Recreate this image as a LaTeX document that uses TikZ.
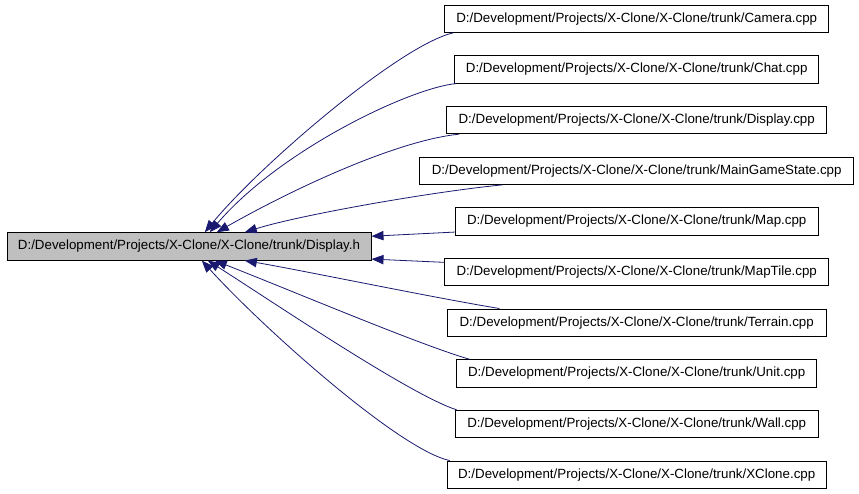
\documentclass[tikz,border=0pt]{standalone}
\usepackage{fontspec}
\setmainfont{Liberation Sans}
\usetikzlibrary{arrows.meta,calc}
\definecolor{edgeblue}{HTML}{191970}
\definecolor{nodegrey}{HTML}{BFBFBF}
\begin{document}
\begin{tikzpicture}[x=0.75pt,y=-0.75pt,
  filebox/.style={draw=black,line width=0.75pt,fill=white,inner sep=0pt,minimum height=20.5pt,font=\fontsize{10}{12}\selectfont,text=black},
  mainbox/.style={filebox,fill=nodegrey},
  dep/.style={draw=edgeblue,line width=0.6pt,-{Triangle[length=9pt,width=7pt]}}]
\useasboundingbox (0,0) rectangle (859,493);
\fill[white] (0,0) rectangle (859,493);

\node[mainbox,minimum width=273pt] (src) at (189,246.4) {D:/Development/Projects/X-Clone/X-Clone/trunk/Display.h};

\node[filebox,minimum width=288pt]    (cam)  at (636.7,18.7)  {D:/Development/Projects/X-Clone/X-Clone/trunk/Camera.cpp};
\node[filebox,minimum width=273pt]    (chat) at (636.7,69.4)  {D:/Development/Projects/X-Clone/X-Clone/trunk/Chat.cpp};
\node[filebox,minimum width=285pt]    (dcpp) at (636.7,120.0) {D:/Development/Projects/X-Clone/X-Clone/trunk/Display.cpp};
\node[filebox,minimum width=325.2pt]  (mgs)  at (636.7,170.7) {D:/Development/Projects/X-Clone/X-Clone/trunk/MainGameState.cpp};
\node[filebox,minimum width=272.25pt] (map)  at (636.7,221.4) {D:/Development/Projects/X-Clone/X-Clone/trunk/Map.cpp};
\node[filebox,minimum width=288pt]    (mt)   at (636.7,272.0) {D:/Development/Projects/X-Clone/X-Clone/trunk/MapTile.cpp};
\node[filebox,minimum width=284pt]    (ter)  at (636.7,322.7) {D:/Development/Projects/X-Clone/X-Clone/trunk/Terrain.cpp};
\node[filebox,minimum width=270pt]    (unit) at (636.7,373.4) {D:/Development/Projects/X-Clone/X-Clone/trunk/Unit.cpp};
\node[filebox,minimum width=272.25pt] (wall) at (636.7,424.0) {D:/Development/Projects/X-Clone/X-Clone/trunk/Wall.cpp};
\node[filebox,minimum width=284.25pt] (xc)   at (636.7,474.7) {D:/Development/Projects/X-Clone/X-Clone/trunk/XClone.cpp};

\draw[dep] ($(cam.south west)+(9,0)$) .. controls (400,45) and (260,165) .. ($(src.north west)+(198.3,0)$);
\draw[dep] ($(chat.south west)+(2,0)$) .. controls (410,88) and (280,150) .. ($(src.north west)+(203.3,0)$);
\draw[dep] ($(dcpp.south west)+(13,0)$) .. controls (400,140) and (300,185) .. ($(src.north west)+(210.3,0)$);
\draw[dep] ($(mgs.south west)+(83,0)$) .. controls (430,192) and (300,215) .. ($(src.north west)+(238.3,0)$);
\draw[dep] ($(map.south west)+(0,-3.5)$) -- ($(src.north east)+(0,4)$);
\draw[dep] ($(mt.north west)+(0,4.5)$) -- ($(src.south east)+(0,-1.5)$);
\draw[dep] ($(ter.north west)+(52.6,0)$) .. controls (430,297) and (300,270) .. ($(src.south west)+(238.3,0)$);
\draw[dep] ($(unit.north west)+(13.3,0)$) .. controls (420,345) and (290,290) .. ($(src.south west)+(208.3,0)$);
\draw[dep] ($(wall.north west)+(2,0)$) .. controls (410,395) and (270,300) .. ($(src.south west)+(201.3,0)$);
\draw[dep] ($(xc.north west)+(3,0)$) .. controls (400,450) and (265,330) .. ($(src.south west)+(195.3,0)$);
\end{tikzpicture}
\end{document}
